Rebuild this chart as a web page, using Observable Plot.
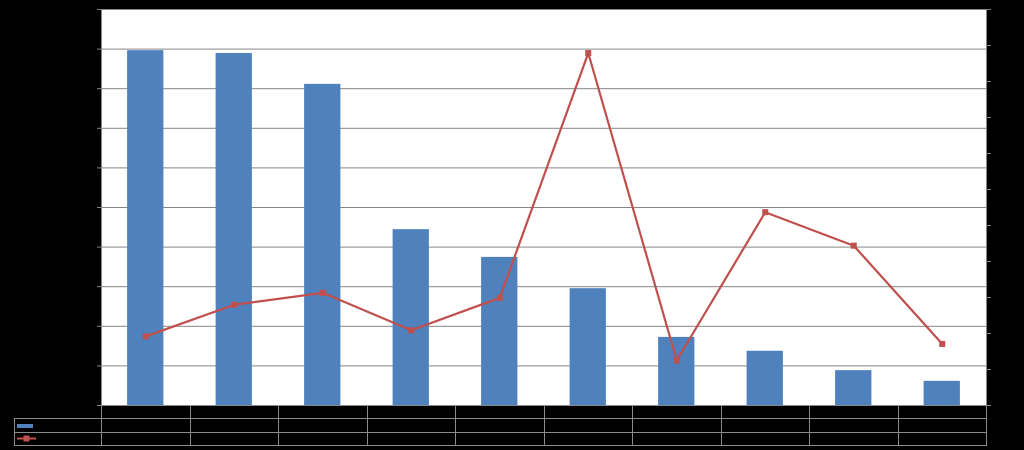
<!DOCTYPE html>
<html><head><meta charset="utf-8">
<script src="https://cdn.jsdelivr.net/npm/d3@7"></script>
<script src="https://cdn.jsdelivr.net/npm/@observablehq/plot@0.6"></script>
<style>
html,body{margin:0;padding:0;background:#000;width:1024px;height:450px;overflow:hidden;font-family:"Liberation Sans",Arial,sans-serif;}
#chart{position:relative;width:1024px;height:450px;background:#000;}
#chart svg{position:absolute;left:0;top:0;}
#tbl{position:absolute;left:14px;top:405px;border-collapse:collapse;table-layout:fixed;width:972px;}
#tbl td{border:1px solid #8a8a8a;padding:0;font-size:9px;line-height:9px;color:#000;text-align:center;overflow:hidden;white-space:nowrap;}
#tbl tr{height:13.3px;}
#tbl td.corner{border-top:none;border-left:none;}
#tbl td.leg{text-align:left;}
.sw-bar{display:inline-block;width:16px;height:4px;background:#4F81BD;margin-left:2px;vertical-align:middle;}
</style></head><body><div id="chart"></div>
<script>
const categories = ["1","2","3","4","5","6","7","8","9","10"];
const barValues  = [8.96, 8.89, 8.11, 4.44, 3.74, 2.95, 1.72, 1.37, 0.88, 0.61];
const lineValues = [1.92, 2.80, 3.13, 2.09, 2.99, 9.79, 1.25, 5.37, 4.44, 1.71];
const leftTicks  = d3.range(0, 11);
const rightTicks = d3.range(0, 12);
const barColor = "#4F81BD", lineColor = "#C0504D", gridColor = "#868686";

const bars = categories.map((c, i) => ({cat: c, v: barValues[i]}));
const pts  = categories.map((c, i) => ({cat: c, v: lineValues[i]}));

const common = {
  width: 1024, height: 450,
  marginLeft: 101, marginRight: 38, marginTop: 9, marginBottom: 45,
  x: {domain: categories, paddingInner: 0.59, paddingOuter: 0.295, round: false, axis: null},
};

const p1 = Plot.plot({
  ...common,
  style: {background: "transparent", fontSize: "9px"},
  y: {domain: [0, 10], axis: null},
  marks: [
    Plot.frame({fill: "white", stroke: null}),
    Plot.gridY(leftTicks, {stroke: gridColor, strokeOpacity: 1}),
    Plot.barY(bars, {x: "cat", y: "v", fill: barColor}),
    Plot.frame({stroke: gridColor}),
    Plot.axisY(leftTicks, {anchor: "left", tickSize: 4, stroke: gridColor, fill: "#000", tickPadding: 3})
  ]
});

const p2 = Plot.plot({
  ...common,
  style: {background: "transparent", fontSize: "9px"},
  y: {domain: [0, 11], axis: null},
  marks: [
    Plot.lineY(pts, {x: "cat", y: "v", stroke: lineColor, strokeWidth: 2.2}),
    Plot.dot(pts, {x: "cat", y: "v", symbol: "square", r: 3.4, fill: lineColor, stroke: null}),
    Plot.axisY(rightTicks, {anchor: "right", tickSize: 4, stroke: gridColor, fill: "#000", tickPadding: 3})
  ]
});

const chart = document.getElementById("chart");
chart.appendChild(p1);
chart.appendChild(p2);

// data table below the plot
const tbl = document.createElement("table");
tbl.id = "tbl";
const cg = document.createElement("colgroup");
const c0 = document.createElement("col"); c0.style.width = "87px"; cg.appendChild(c0);
categories.forEach(() => { const c = document.createElement("col"); c.style.width = "88.5px"; cg.appendChild(c); });
tbl.appendChild(cg);

const r0 = document.createElement("tr");
const corner = document.createElement("td"); corner.className = "corner"; r0.appendChild(corner);
categories.forEach(c => { const td = document.createElement("td"); td.textContent = c; r0.appendChild(td); });
tbl.appendChild(r0);

const r1 = document.createElement("tr");
const l1 = document.createElement("td"); l1.className = "leg";
l1.innerHTML = '<span class="sw-bar"></span>';
r1.appendChild(l1);
barValues.forEach(v => { const td = document.createElement("td"); td.textContent = v; r1.appendChild(td); });
tbl.appendChild(r1);

const r2 = document.createElement("tr");
const l2 = document.createElement("td"); l2.className = "leg";
l2.innerHTML = '<svg width="22" height="9" style="vertical-align:middle;margin-left:1px;display:inline-block;position:static"><line x1="1" y1="4.5" x2="20" y2="4.5" stroke="' + lineColor + '" stroke-width="2"/><rect x="7.5" y="1.5" width="6" height="6" fill="' + lineColor + '"/></svg>';
r2.appendChild(l2);
lineValues.forEach(v => { const td = document.createElement("td"); td.textContent = v; r2.appendChild(td); });
tbl.appendChild(r2);

chart.appendChild(tbl);
</script>
</body></html>
